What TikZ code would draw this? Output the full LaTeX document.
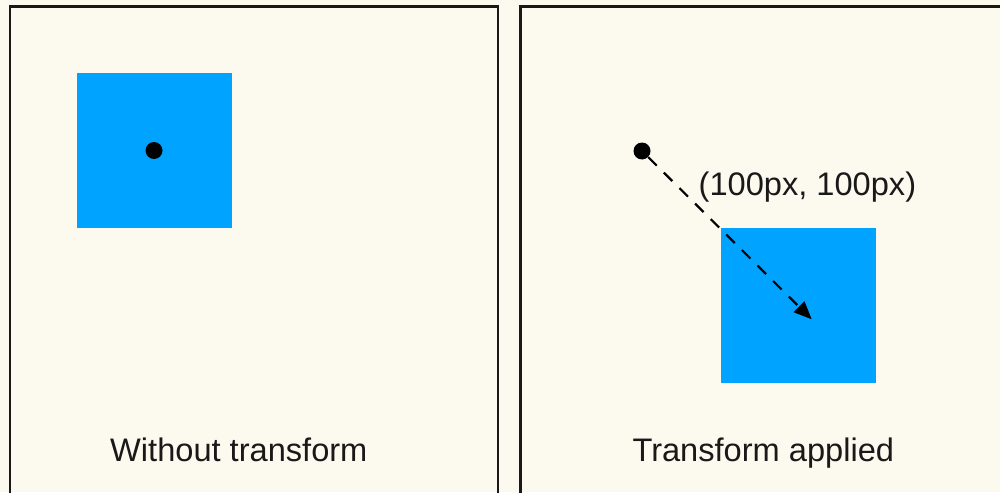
\documentclass[tikz,border=0pt]{standalone}
\usepackage{fontspec}
\setmainfont{Liberation Sans}
\usetikzlibrary{arrows.meta}
\definecolor{paper}{RGB}{252,249,238}
\definecolor{boxblue}{RGB}{0,163,255}
\tikzset{
  panel/.style={draw=black!90, line width=2.2pt},
  bluebox/.style={fill=boxblue, draw=none, minimum width=155pt, minimum height=155pt, inner sep=0pt},
  origin/.style={circle, fill=black, minimum size=17pt, inner sep=0pt},
  caption/.style={font=\fontsize{32.6}{39}\selectfont, text=black!90, inner sep=0pt},
  move/.style={line width=2.2pt, dash pattern=on 12pt off 10pt, -{Triangle[length=18pt,width=15pt]}}
}
\begin{document}
\begin{tikzpicture}[x=1pt,y=-1pt]
  \useasboundingbox (0,0) rectangle (1000,492);
  \fill[paper] (0,0) rectangle (1000,492);
  \begin{scope}
    \clip (0,0) rectangle (1000,492);
    % two frames, running off the bottom and right edges
    \draw[panel] (498.3,520) -- (498.3,6.5) -- (9.8,6.5) -- (9.8,520);
    \draw[panel] (1010,6.5) -- (520.5,6.5) -- (520.5,520);
  \end{scope}

  % left: untransformed element and its origin
  \node[bluebox] (boxL) at (154,150.5) {};
  \node[origin] (dotL) at (154,150.5) {};
  \node[caption, anchor=base] (capL) at (238.8,461.7) {Without transform};

  % right: element moved by the translation vector
  \node[bluebox] (boxR) at (798.5,305.5) {};
  \node[origin] (dotR) at (642,151) {};
  \coordinate (tip) at (811.7,319.3);
  \draw[move] (dotR) -- (tip);
  \node[caption, anchor=base west] (vec) at (698.5,195) {(100px, 100px)};
  \node[caption, anchor=base] (capR) at (763.3,461.7) {Transform applied};
\end{tikzpicture}
\end{document}
